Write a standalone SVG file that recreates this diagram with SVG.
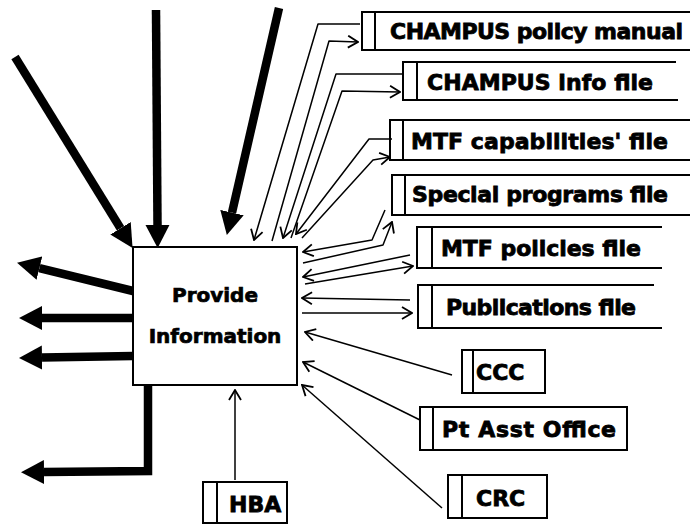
<svg xmlns="http://www.w3.org/2000/svg" width="690" height="524" viewBox="0 0 690 524">
  <style>
    .box { fill: #fff; stroke: #000; stroke-width: 2; }
    .store { fill: none; stroke: #000; stroke-width: 2; }
    .bar { stroke: #000; stroke-width: 2; }
    .lbl { font-family: "DejaVu Sans", "Liberation Sans", sans-serif; font-weight: bold; font-size: 22px; fill: #000; stroke: #000; stroke-width: 0.8; }
    .main { font-family: "DejaVu Sans", "Liberation Sans", sans-serif; font-weight: bold; font-size: 20px; fill: #000; stroke: #000; stroke-width: 0.7; text-anchor: middle; }
    .heavy { fill: none; stroke: #000; stroke-width: 8.5; stroke-linejoin: miter; marker-end: url(#big); }
    .thin { fill: none; stroke: #000; stroke-width: 1.5; stroke-linejoin: round; marker-end: url(#open); }
  </style>
  <defs>
    <marker id="big" viewBox="0 -13 24 26" markerWidth="24" markerHeight="26" refX="0" refY="0" orient="auto" markerUnits="userSpaceOnUse">
      <path d="M0,-12 L23,0 L0,12 Z" fill="#000"/>
    </marker>
    <marker id="open" viewBox="-12 -7 13 14" markerWidth="13" markerHeight="14" refX="0" refY="0" orient="auto" markerUnits="userSpaceOnUse">
      <path d="M-10,-6 L0,0 L-10,6" fill="none" stroke="#000" stroke-width="1.8"/>
    </marker>
  </defs>

  <rect width="690" height="524" fill="#fff"/>

  <!-- connectors -->
  <g id="connectors">
    <!-- heavy inputs from above -->
    <line class="heavy" x1="15" y1="57" x2="120.5" y2="228.3"/>
    <line class="heavy" x1="156" y1="10" x2="157.5" y2="225"/>
    <line class="heavy" x1="279" y1="8" x2="232" y2="212.6"/>
    <!-- heavy outputs to the left -->
    <line class="heavy" x1="133" y1="291" x2="39.4" y2="268.2"/>
    <line class="heavy" x1="133" y1="318" x2="42" y2="318"/>
    <line class="heavy" x1="133" y1="356" x2="42" y2="357.6"/>
    <polyline class="heavy" points="148,386 148,471 44,472"/>

    <!-- data store exchanges -->
    <polyline class="thin" points="360,24 318,24 254,240"/>
    <polyline class="thin" points="272,241 329,41 358,42"/>
    <polyline class="thin" points="403,74 336,74 283,238"/>
    <polyline class="thin" points="291,238 342,91 400,92"/>
    <polyline class="thin" points="392,139 369,139 296,234"/>
    <polyline class="thin" points="302,238 373,160 390,157"/>
    <polyline class="thin" points="385,210 372,240 303,252"/>
    <polyline class="thin" points="303,263 383,245 392,222"/>
    <polyline class="thin" points="410,255 303,277"/>
    <polyline class="thin" points="305,284 413,266"/>
    <polyline class="thin" points="410,300 302,298"/>
    <polyline class="thin" points="302,313 412,313"/>

    <!-- external sources -->
    <polyline class="thin" points="452,375 305,332"/>
    <polyline class="thin" points="420,420 303,362"/>
    <polyline class="thin" points="442,508 302,385"/>
    <polyline class="thin" points="235,480 235,390"/>
  </g>

  <!-- activity -->
  <g id="provide-information">
    <rect class="box" x="133" y="247" width="164" height="138"/>
    <text class="main" x="215" y="302">Provide</text>
    <text class="main" x="215" y="343">Information</text>
  </g>

  <!-- data stores (open on the right) -->
  <g id="champus-policy-manual">
    <path class="store" d="M692,12 H362 V50 H692"/>
    <line class="bar" x1="375" y1="12" x2="375" y2="50"/>
    <text class="lbl" x="390" y="39" textLength="293">CHAMPUS policy manual</text>
  </g>
  <g id="champus-info-file">
    <path class="store" d="M676,62 H403 V100 H678"/>
    <line class="bar" x1="417" y1="62" x2="417" y2="100"/>
    <text class="lbl" x="427" y="90" textLength="226">CHAMPUS info file</text>
  </g>
  <g id="mtf-capabilities-file">
    <path class="store" d="M692,120 H390 V160 H692"/>
    <line class="bar" x1="403" y1="120" x2="403" y2="160"/>
    <text class="lbl" x="411" y="149" textLength="257">MTF capabilities' file</text>
  </g>
  <g id="special-programs-file">
    <path class="store" d="M692,175 H392 V215 H692"/>
    <line class="bar" x1="405" y1="175" x2="405" y2="215"/>
    <text class="lbl" x="412" y="202" textLength="256">Special programs file</text>
  </g>
  <g id="mtf-policies-file">
    <path class="store" d="M662,227 H417 V268 H662"/>
    <line class="bar" x1="432" y1="227" x2="432" y2="268"/>
    <text class="lbl" x="441" y="256" textLength="200">MTF policies file</text>
  </g>
  <g id="publications-file">
    <path class="store" d="M654,285 H418 V328 H662"/>
    <line class="bar" x1="432" y1="285" x2="432" y2="328"/>
    <text class="lbl" x="446" y="315" textLength="190">Publications file</text>
  </g>

  <!-- external entities -->
  <g id="ccc">
    <rect class="box" x="462" y="350" width="83" height="43"/>
    <line class="bar" x1="473" y1="350" x2="473" y2="393"/>
    <text class="lbl" x="476" y="380" font-size="23">CCC</text>
  </g>
  <g id="pt-asst-office">
    <rect class="box" x="420" y="407" width="207" height="43"/>
    <line class="bar" x1="433" y1="407" x2="433" y2="450"/>
    <text class="lbl" x="442" y="437" textLength="174">Pt Asst Office</text>
  </g>
  <g id="crc">
    <rect class="box" x="448" y="475" width="99" height="43"/>
    <line class="bar" x1="462" y1="475" x2="462" y2="518"/>
    <text class="lbl" x="476" y="506" font-size="23">CRC</text>
  </g>
  <g id="hba">
    <rect class="box" x="203" y="482" width="84" height="41"/>
    <line class="bar" x1="217" y1="482" x2="217" y2="523"/>
    <text class="lbl" x="229" y="512" font-size="20">HBA</text>
  </g>
</svg>
